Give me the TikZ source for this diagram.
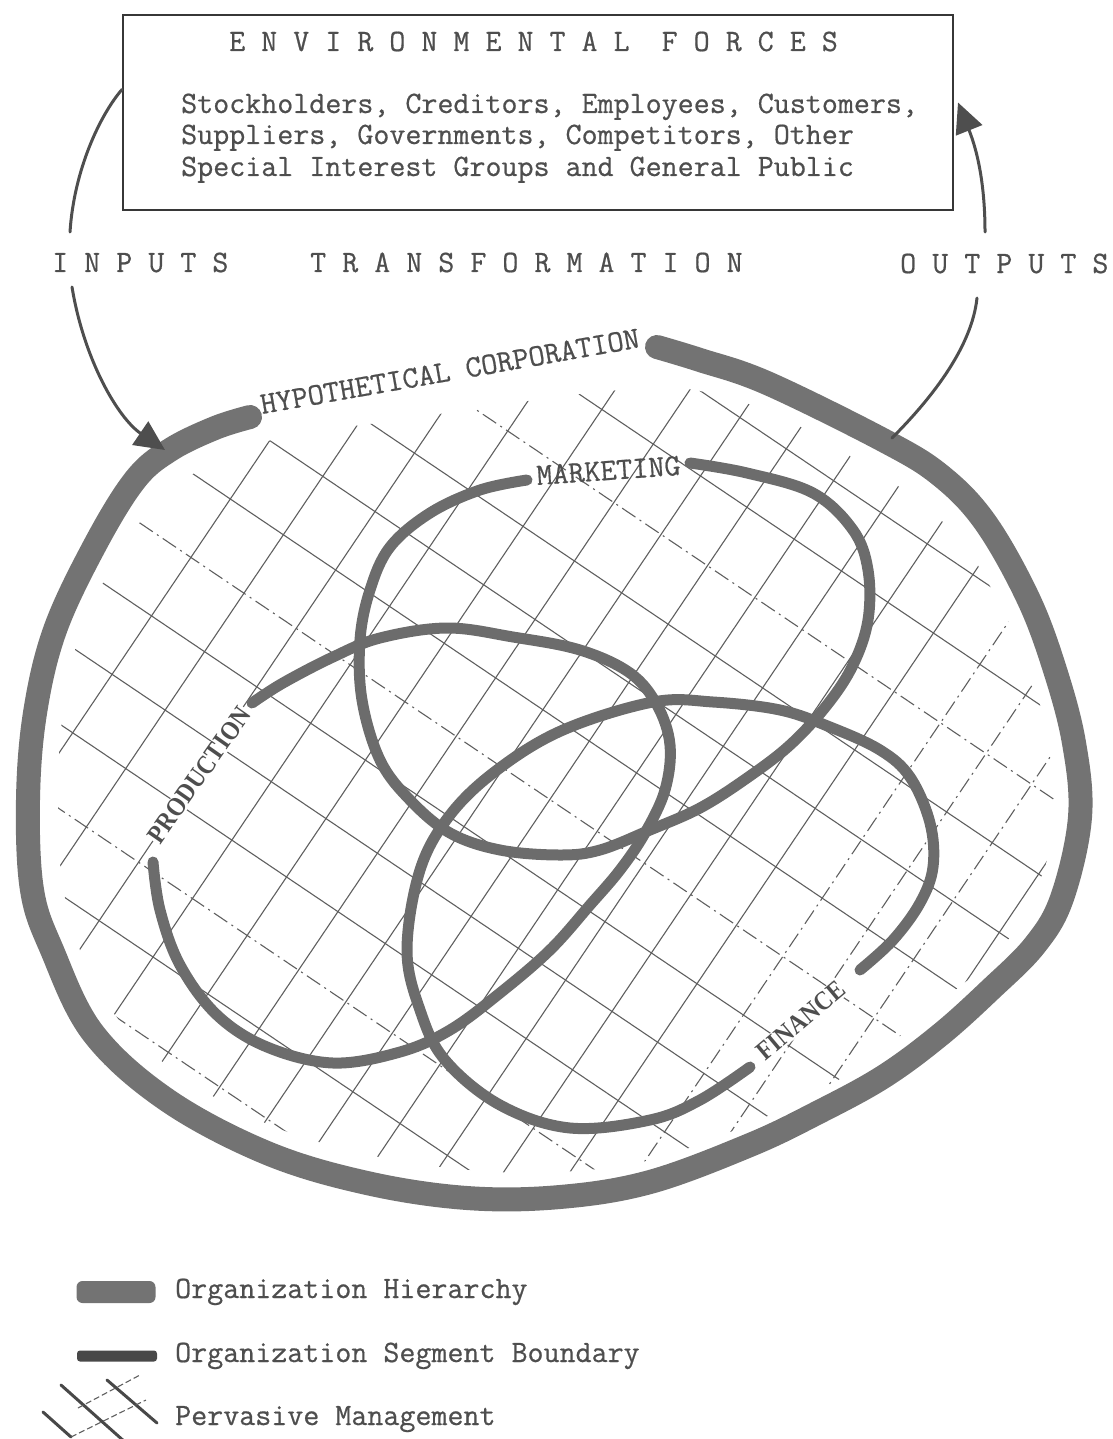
\documentclass[tikz,border=0pt]{standalone}
\usepackage{fontspec}
\newfontfamily\typefont[FakeBold=0.6]{Latin Modern Mono}
\newfontfamily\ringfont[FakeStretch=0.88]{Liberation Serif}
\usetikzlibrary{arrows.meta}

\definecolor{inkgray}{RGB}{78,78,78}
\definecolor{edgegray}{RGB}{55,55,55}
\definecolor{bandgray}{RGB}{115,115,115}
\definecolor{ringgray}{RGB}{108,108,108}
\definecolor{seggray}{RGB}{72,72,72}
\definecolor{gridgray}{RGB}{95,95,95}

\begin{document}
\begin{tikzpicture}[x=1pt, y=-1pt,
    typed/.style={font=\typefont\fontsize{31.1}{31.5}\selectfont, text=inkgray, inner sep=0pt},
    ringlabel/.style={font=\ringfont\bfseries\fontsize{26.5}{28}\selectfont, text=inkgray, inner sep=1pt, fill=white},
    hierarchy/.style={draw=bandgray, line width=24pt, line cap=round},
    segment/.style={draw=ringgray, line width=11pt, line cap=round},
    pmline/.style={draw=gridgray, line width=1.1pt},
    pmdash/.style={draw=gridgray, line width=1.1pt, dash pattern=on 16pt off 5pt on 2pt off 5pt},
    flow/.style={draw=inkgray, line width=3pt, line cap=round},
    flowtip/.style={arrows={-{Triangle[length=30pt, width=28pt]}}},
  ]
    \useasboundingbox (0,0) rectangle (1112,1439);
    % Define the layers
    \pgfdeclarelayer{grid}
    \pgfsetlayers{grid,main}

    % Layer grid: pervasive management
    \begin{pgfonlayer}{grid}
        \begin{scope}
            \clip plot[smooth cycle, tension=0.6] coordinates {(280,438) (200,470) (150,510) (110,570) (78,640) (62,720) (58,800) (62,880) (80,950) (115,1015) (180,1075) (270,1125) (370,1155) (470,1170) (560,1172) (650,1160) (740,1128) (810,1095) (870,1060) (930,1010) (1000,950) (1040,880) (1055,815) (1050,745) (1030,675) (1000,605) (960,540) (910,495) (860,462) (770,412) (680,388) (600,392) (500,405) (400,420)};
            \foreach \s in {470,534,597,662,728,790,847,903,960,1017,1073,1128,1350}{
                \draw[pmline] ({\s*0.829-820*0.559}, {\s*0.559+820*0.829}) -- ({\s*0.829+160*0.559}, {\s*0.559-160*0.829});
            }
            \foreach \s in {1184,1239,1294}{
                \draw[pmdash] ({\s*0.829-820*0.559}, {\s*0.559+820*0.829}) -- ({\s*0.829+160*0.559}, {\s*0.559-160*0.829});
            }
            \foreach \t in {-708,-567,-496.5,-426,-285,-214.5,-144,-3,67.5}{
                \draw[pmline] ({380*0.829+\t*0.559}, {380*0.559-\t*0.829}) -- ({1420*0.829+\t*0.559}, {1420*0.559-\t*0.829});
            }
            \foreach \t in {-778.5,-637.5,-355.5,-73.5}{
                \draw[pmdash] ({380*0.829+\t*0.559}, {380*0.559-\t*0.829}) -- ({1420*0.829+\t*0.559}, {1420*0.559-\t*0.829});
            }
        \end{scope}
    \end{pgfonlayer}

    % Environmental forces
    \node[shape=rectangle, draw=edgegray, line width=2pt, minimum width=830pt, minimum height=195pt, inner sep=0pt] (envbox) at ({538}, {112.5}) {};
    \node[typed, anchor=base west] (envtitle) at ({229}, {51}) {E N V I R O N M E N T A L\ \ F O R C E S};
    \node[typed, anchor=base west] (forces1) at ({181}, {113}) {Stockholders, Creditors, Employees, Customers,};
    \node[typed, anchor=base west] (forces2) at ({181}, {144}) {Suppliers, Governments, Competitors, Other};
    \node[typed, anchor=base west] (forces3) at ({181}, {176}) {Special Interest Groups and General Public};

    \node[typed, anchor=base west] (inputs) at ({52}, {272}) {I N P U T S};
    \node[typed, anchor=base west] (transformation) at ({310}, {272}) {T R A N S F O R M A T I O N};
    \node[typed, anchor=base west] (outputs) at ({900}, {273}) {O U T P U T S};

    % Labels of the corporation and its segments
    \node[typed, anchor=base west, rotate=10] (corporation) at ({262}, {414}) {HYPOTHETICAL CORPORATION};
    \node[typed, anchor=base west, rotate=4] (marketing) at ({537}, {485}) {MARKETING};
    \node[ringlabel, anchor=base west, rotate=55] (production) at ({160}, {846}) {PRODUCTION};
    \node[ringlabel, anchor=base west, rotate=40] (finance) at ({765}, {1062}) {FINANCE};

    % Organization hierarchy
    \draw[hierarchy] plot[smooth, tension=0.6] coordinates {(250,417) (215,428) (170,450) (135,480) (95,545) (55,630) (35,713) (28,800) (32,890) (52,950) (93,1033) (167,1100) (267,1153) (367,1183) (467,1198) (560,1197) (650,1182) (750,1145) (817,1113) (883,1077) (940,1035) (990,990) (1035,945) (1062,898) (1080,817) (1074,743) (1055,670) (1028,598) (985,522) (940,475) (883,440) (767,383) (700,360) (657,347)};

    % Segment boundaries
    \draw[segment] plot[smooth, tension=0.6] coordinates {(690,463) (747,473) (813,493) (853,530) (868,570) (868,620) (853,665) (827,705) (790,745) (747,778) (700,808) (650,830) (600,850) (560,855) (500,850) (450,833) (410,800) (380,760) (362,700) (360,640) (370,590) (390,547) (430,513) (480,490) (527,480)};
    \draw[segment] plot[smooth, tension=0.6] coordinates {(252,703) (283,683) (333,657) (380,638) (447,628) (513,637) (580,650) (630,673) (657,705) (670,745) (665,790) (645,833) (620,870) (590,905) (550,950) (500,993) (450,1030) (400,1052) (333,1063) (267,1047) (217,1015) (180,965) (160,910) (153,862)};
    \draw[segment] plot[smooth, tension=0.6] coordinates {(860,970) (893,940) (920,903) (933,867) (930,823) (910,777) (880,750) (830,727) (780,710) (713,702) (653,702) (563,730) (497,770) (450,815) (420,870) (407,950) (420,1010) (445,1060) (500,1105) (570,1128) (650,1120) (700,1100) (750,1067)};

    % Inputs and outputs
    \coordinate (inStart) at ([yshift=23pt]envbox.west);
    \coordinate (inUpper) at ({70}, {232});
    \coordinate (inLower) at ({72}, {287});
    \coordinate (inTip) at ({165}, {450});
    \coordinate (outBase) at ({892}, {438});
    \coordinate (outLower) at ({977}, {298});
    \coordinate (outUpper) at ({985}, {232});
    \draw[flow] (inStart) .. controls ({100}, {115}) and ({74}, {170}) .. (inUpper);
    \draw[flow, flowtip] (inLower) .. controls ({84}, {360}) and ({118}, {418}) .. (inTip);
    \draw[flow] (outBase) .. controls ({935}, {395}) and ({972}, {345}) .. (outLower);
    \draw[flow, flowtip] (outUpper) .. controls ({985}, {190}) and ({979}, {155}) .. ([xshift=4pt, yshift=10pt]envbox.east);

    % Legend
    \node[shape=rectangle, fill=bandgray, rounded corners=6pt, minimum width=79pt, minimum height=22pt, inner sep=0pt] (hiersample) at ({116}, {1292}) {};
    \node[typed, anchor=base west] (hierlabel) at ({175}, {1298}) {Organization Hierarchy};
    \node[shape=rectangle, fill=seggray, rounded corners=3pt, minimum width=80pt, minimum height=11pt, inner sep=0pt] (segsample) at ({117}, {1356}) {};
    \node[typed, anchor=base west] (seglabel) at ({175}, {1362}) {Organization Segment Boundary};
    \node[typed, anchor=base west] (pmlabel) at ({175}, {1425}) {Pervasive Management};
    \draw[flow, draw=seggray] (61,1385) -- (125,1442);
    \draw[flow, draw=seggray] (107,1380) -- (157,1423);
    \draw[flow, draw=seggray] (43,1412) -- (71,1437);
    \draw[pmdash, dash pattern=on 6pt off 3pt] (71,1437) -- (146,1400);
    \draw[pmdash, dash pattern=on 6pt off 3pt] (78,1408) -- (140,1375);
\end{tikzpicture}
\end{document}
